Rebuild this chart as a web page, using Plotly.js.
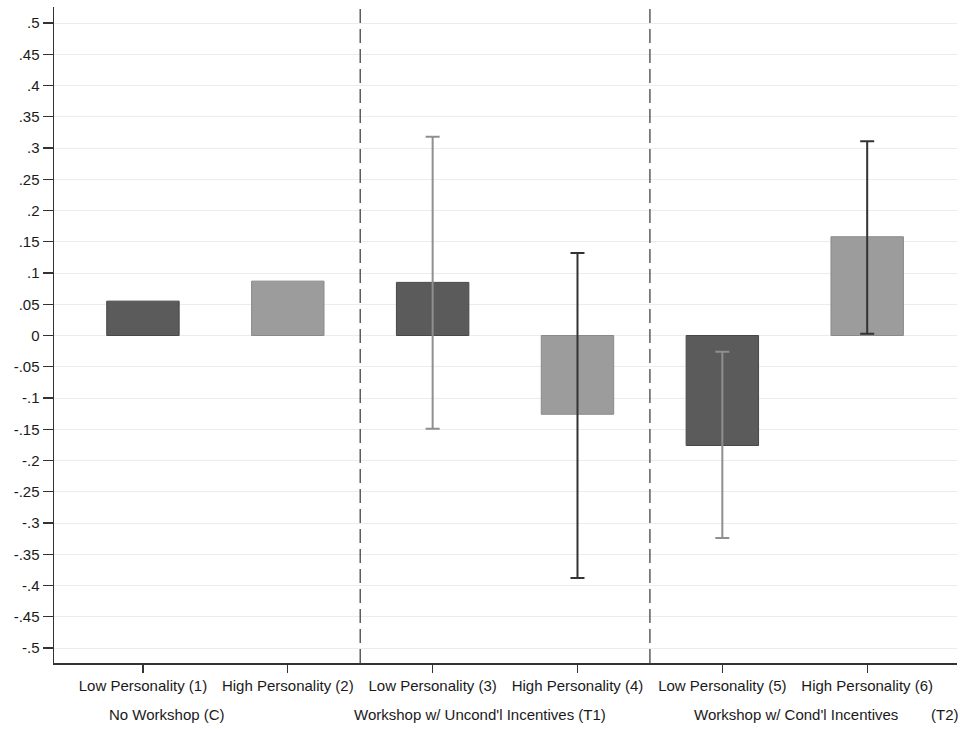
<!DOCTYPE html>
<html>
<head>
<meta charset="utf-8">
<script src="https://cdn.plot.ly/plotly-3.0.1.min.js"></script>
<style>
html,body{margin:0;padding:0;background:#fff;}
#chart{width:960px;height:729px;}
</style>
</head>
<body>
<div id="chart"></div>
<script>
// Data
const positions = [1, 2, 3, 4, 5, 6];
const categoryLabels = ["Low Personality (1)", "High Personality (2)", "Low Personality (3)",
  "High Personality (4)", "Low Personality (5)", "High Personality (6)"];
const personality = ["Low", "High", "Low", "High", "Low", "High"];
const values = [0.055, 0.087, 0.085, -0.126, -0.176, 0.158];
const ciHigh = [null, null, 0.318, 0.132, -0.026, 0.311];
const ciLow = [null, null, -0.149, -0.388, -0.324, 0.003];
const groupLabels = ["No Workshop (C)", "Workshop w/ Uncond'l Incentives (T1)", "Workshop w/ Cond'l Incentives", "(T2)"];
const groupLabelX = [0.75, 2.44, 4.79, 6.43];
const groupDividers = [2.5, 4.5];
const yTickVals = [0.5, 0.45, 0.4, 0.35, 0.3, 0.25, 0.2, 0.15, 0.1, 0.05, 0, -0.05, -0.1, -0.15, -0.2, -0.25, -0.3, -0.35, -0.4, -0.45, -0.5];
const yTickText = [".5", ".45", ".4", ".35", ".3", ".25", ".2", ".15", ".1", ".05", "0", "-.05", "-.1", "-.15", "-.2", "-.25", "-.3", "-.35", "-.4", "-.45", "-.5"];

const style = {
  Low: {fill: '#5b5b5b', edge: '#484848', err: '#8f8f8f'},
  High: {fill: '#9c9c9c', edge: '#8a8a8a', err: '#333333'}
};

const traces = positions.map((p, i) => {
  const s = style[personality[i]];
  const hasCI = ciHigh[i] !== null && ciLow[i] !== null;
  const t = {
    type: 'bar', x: [p], y: [values[i]], width: 0.5,
    marker: {color: s.fill, line: {color: s.edge, width: 1}},
    hoverinfo: 'skip', showlegend: false
  };
  if (hasCI) {
    t.error_y = {type: 'data', symmetric: false,
      array: [ciHigh[i] - values[i]], arrayminus: [values[i] - ciLow[i]],
      color: s.err, thickness: 2, width: 7};
  }
  return t;
});

const font = {family: 'Liberation Sans, Arial, Helvetica, sans-serif', size: 15, color: '#1a1a1a'};

const layout = {
  width: 960, height: 729,
  margin: {l: 54, r: 3, t: 7, b: 66},
  paper_bgcolor: '#ffffff', plot_bgcolor: '#ffffff',
  font: font,
  barmode: 'overlay',
  showlegend: false,
  xaxis: {
    range: [0.386, 6.62], tickvals: positions, ticktext: categoryLabels,
    showline: true, linecolor: '#333', linewidth: 1.5,
    ticks: 'outside', ticklen: 8, tickcolor: '#333', tickwidth: 1.2,
    showgrid: false, zeroline: false, tickfont: font, fixedrange: true
  },
  yaxis: {
    range: [-0.524, 0.5256], tickvals: yTickVals, ticktext: yTickText,
    showline: true, linecolor: '#333', linewidth: 1.5,
    ticks: 'outside', ticklen: 10, tickcolor: '#333', tickwidth: 1.2,
    showgrid: true, gridcolor: '#ececec', gridwidth: 1,
    zeroline: false, tickfont: font, fixedrange: true
  },
  shapes: groupDividers.map(d => ({
    type: 'line', xref: 'x', yref: 'paper', x0: d, x1: d, y0: 0, y1: 1,
    line: {color: '#444', width: 1.3, dash: '14px,6px'}
  })),
  annotations: groupLabels.map((t, i) => ({
    text: t, x: groupLabelX[i], xref: 'x', y: -0.078, yref: 'paper',
    xanchor: 'left', yanchor: 'middle', showarrow: false, font: font
  }))
};

Plotly.newPlot('chart', traces, layout, {displayModeBar: false, staticPlot: true});
</script>
</body>
</html>
